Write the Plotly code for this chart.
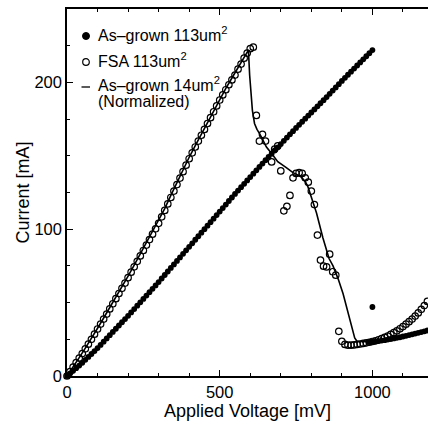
import plotly.graph_objects as go

# ---------------- data ----------------
# As-grown 113um^2 (filled dots), 10 mV steps 0..1000 mV
asgrown_v = list(range(0, 1001, 10))
asgrown_i = [0, 1.7, 3.5, 5.3, 7.1, 9, 11, 13, 15, 17,
             19, 21.2, 23.4, 25.6, 27.8, 30, 32.2, 34.4, 36.6, 38.8,
             41, 43.3, 45.6, 47.9, 50.2, 52.5, 54.8, 57.1, 59.4, 61.7,
             64, 66.4, 68.8, 71.2, 73.6, 76, 78.4, 80.8, 83.2, 85.6,
             88, 90.4, 92.8, 95.2, 97.6, 100, 102.4, 104.8, 107.2, 109.6,
             112, 114.4, 116.8, 119.2, 121.6, 124, 126.3, 128.6, 130.9, 133.2,
             135.5, 137.8, 140.1, 142.4, 144.7, 147, 149.2, 151.4, 153.6, 155.8,
             158, 160.2, 162.4, 164.6, 166.8, 169, 171.1, 173.2, 175.3, 177.4,
             179.5, 181.6, 183.7, 185.8, 187.9, 190, 192.2, 194.4, 196.6, 198.8,
             201, 203.1, 205.2, 207.3, 209.4, 211.5, 213.6, 215.7, 217.8, 219.9,
             222]
# transition point and valley branch of the as-grown device
asgrown_jump_v = [1000]
asgrown_jump_i = [47]
asgrown_valley_v = [990, 1000, 1010, 1020, 1030, 1040, 1050, 1060, 1070, 1080, 1090,
                    1100, 1110, 1120, 1130, 1140, 1150, 1160, 1170, 1180]
asgrown_valley_i = [23.2, 23.3, 23.5, 23.8, 24.1, 24.4, 24.8, 25.2, 25.6, 26.0, 26.4,
                    26.9, 27.4, 27.9, 28.4, 28.9, 29.4, 29.9, 30.4, 31.0]

# FSA 113um^2 (open circles)
fsa_v = [0, 10, 20, 30, 40, 50, 60, 70, 80, 90,
         100, 110, 120, 130, 140, 150, 160, 170, 180, 190,
         200, 210, 220, 230, 240, 250, 260, 270, 280, 290,
         300, 310, 320, 330, 340, 350, 360, 370, 380, 390,
         400, 410, 420, 430, 440, 450, 460, 470, 480, 490,
         500, 510, 520, 530, 540, 550, 560, 570, 580, 590,
         600, 610,
         620, 630, 640, 650, 670, 680, 690, 700, 710, 720,
         730, 740, 750, 760, 770, 780, 790, 800, 810, 820,
         830, 840, 850, 860, 870, 880, 890, 900,
         910, 920, 930, 940, 950, 960, 970, 980, 990, 1000,
         1010, 1020, 1030, 1040, 1050, 1060, 1070, 1080, 1090, 1100,
         1110, 1120, 1130, 1140, 1150, 1160, 1170, 1180]
fsa_i = [0, 3, 6, 9.1, 12.2, 15.3, 18.5, 21.7, 25, 28.5,
         32, 35.4, 38.8, 42.2, 45.7, 49.2, 52.7, 56.2, 59.7, 63.3,
         67, 70.7, 74.4, 78.1, 81.8, 85.5, 89.2, 92.9, 96.6, 100.3,
         104, 108.4, 112.8, 117.2, 121.6, 126, 130.4, 134.8, 139.2, 143.6,
         148, 152, 156, 160, 164, 168, 172, 176, 180, 184,
         188, 191.5, 195, 198.4, 201.7, 205, 209, 212.5, 216.5, 220,
         223, 224,
         177.5, 160, 164.6, 160, 145.8, 154.6, 156.7, 139.7, 112.5, 115.6,
         123, 135, 138, 138.5, 138, 135, 132, 126, 116.8, 96,
         79, 74.8, 74.3, 83, 71, 68.7, 30.4, 23.6,
         21.5, 21, 21, 21.2, 21.5, 21.8, 22.2, 22.6, 23, 23.5,
         24, 24.7, 25.5, 26.3, 27.2, 28.3, 29.5, 30.8, 32.2, 33.7,
         35.3, 37, 38.8, 40.8, 43, 45.4, 48, 50.8]

# As-grown 14um^2 (normalized), solid line
small_v = [0, 20, 40, 60, 80, 100, 120, 140, 160, 180,
           200, 220, 240, 260, 280, 300, 320, 340, 360, 380,
           400, 420, 440, 460, 480, 500, 520, 540, 560, 580,
           590, 594, 598, 602, 607, 614, 622, 631, 642, 653,
           670, 690, 718, 740, 755, 767, 780, 789, 806, 817,
           838, 858, 871, 888, 904, 926, 942, 950, 960, 980,
           1000, 1030, 1060, 1100, 1140, 1180]
small_i = [0, 6, 12.5, 19, 25.5, 32.5, 39.5, 46.5, 53.5, 60.5,
           68, 75.5, 83, 90.5, 98, 105.5, 114, 123, 132, 140.5,
           149, 157, 165, 173, 181, 189, 196, 203, 210, 217,
           221, 222, 205, 192, 181, 172, 168, 165, 160, 156,
           151.5, 146, 142, 138.5, 137, 135.5, 132.5, 128.8, 118, 111,
           94, 80, 75, 66, 56, 38, 26, 23.5, 23.3, 23.4,
           23.6, 24.3, 25.3, 27, 29, 31.5]

x_ticks = [0, 500, 1000]
y_ticks = [0, 100, 200]
legend_labels = ["As–grown 113um<sup>2</sup>", "FSA 113um<sup>2</sup>",
                 "As–grown 14um<sup>2</sup>", "(Normalized)"]

# ---------------- figure ----------------
W, H = 428, 426
ML, MR, MT, MB = 67, 0, 9, 50
FONT = "Liberation Sans, Arial, Helvetica, sans-serif"

fig = go.Figure()
fig.add_trace(go.Scatter(x=small_v, y=small_i, mode="lines",
                         line=dict(color="black", width=1.6), cliponaxis=False,
                         showlegend=False))
fig.add_trace(go.Scatter(x=fsa_v, y=fsa_i, mode="markers",
                         marker=dict(symbol="circle-open", size=6.5, color="black",
                                     line=dict(width=1.2, color="black")),
                         cliponaxis=False, showlegend=False))
fig.add_trace(go.Scatter(x=asgrown_v + asgrown_jump_v + asgrown_valley_v,
                         y=asgrown_i + asgrown_jump_i + asgrown_valley_i,
                         mode="markers",
                         marker=dict(symbol="circle", size=5.8, color="black"),
                         cliponaxis=False, showlegend=False))

pw = W - ML - MR
ph = H - MT - MB


def px(x):
    # pixel x -> paper fraction
    return (x - ML) / pw


def py(y):
    # pixel y -> paper fraction
    return (H - MB - y) / ph


# hand-drawn style legend
r = 3.5
fig.add_shape(type="circle", xref="paper", yref="paper",
              x0=px(86 - r), x1=px(86 + r), y0=py(36 + r), y1=py(36 - r),
              fillcolor="black", line=dict(color="black", width=1))
r = 3.3
fig.add_shape(type="circle", xref="paper", yref="paper",
              x0=px(86 - r), x1=px(86 + r), y0=py(62 + r), y1=py(62 - r),
              fillcolor="white", line=dict(color="black", width=1.2))
fig.add_shape(type="line", xref="paper", yref="paper",
              x0=px(81.5), x1=px(90), y0=py(87), y1=py(87),
              line=dict(color="black", width=1.3))

legend_y = [34, 60, 84, 102]
for lab, yy in zip(legend_labels, legend_y):
    fig.add_annotation(text=lab, xref="paper", yref="paper",
                       x=px(96), y=py(yy), xanchor="left", yanchor="middle",
                       showarrow=False, font=dict(size=16, color="black", family=FONT))

axis_common = dict(
    showgrid=False, zeroline=False, showline=True, linecolor="black", linewidth=1.5,
    ticks="inside", ticklen=6, tickwidth=1.2, tickcolor="black",
    tickfont=dict(size=16.5, color="black", family=FONT),
)

fig.update_xaxes(range=[0, 1182], tickvals=x_ticks, mirror="ticks",
                 minor=dict(dtick=100, ticks="inside", ticklen=3.5, tickwidth=1.2,
                            tickcolor="black"),
                 title=dict(text="Applied Voltage [mV]", standoff=2,
                            font=dict(size=18, color="black", family=FONT)),
                 **axis_common)
fig.update_yaxes(range=[0, 250], tickvals=y_ticks, mirror=False,
                 minor=dict(dtick=25, ticks="inside", ticklen=3.5, tickwidth=1.2,
                            tickcolor="black"),
                 title=dict(text="Current [mA]", standoff=0,
                            font=dict(size=18, color="black", family=FONT)),
                 **axis_common)

fig.update_layout(width=W, height=H, margin=dict(l=ML, r=MR, t=MT, b=MB),
                  paper_bgcolor="white", plot_bgcolor="white",
                  font=dict(family=FONT, color="black"), showlegend=False)

# remove the default page margin so the 428x426 figure fills the window exactly
fig.write_html("out.html",
               config={"displayModeBar": False},
               post_script="document.body.style.margin='0';"
                           "document.body.style.overflow='hidden';")
